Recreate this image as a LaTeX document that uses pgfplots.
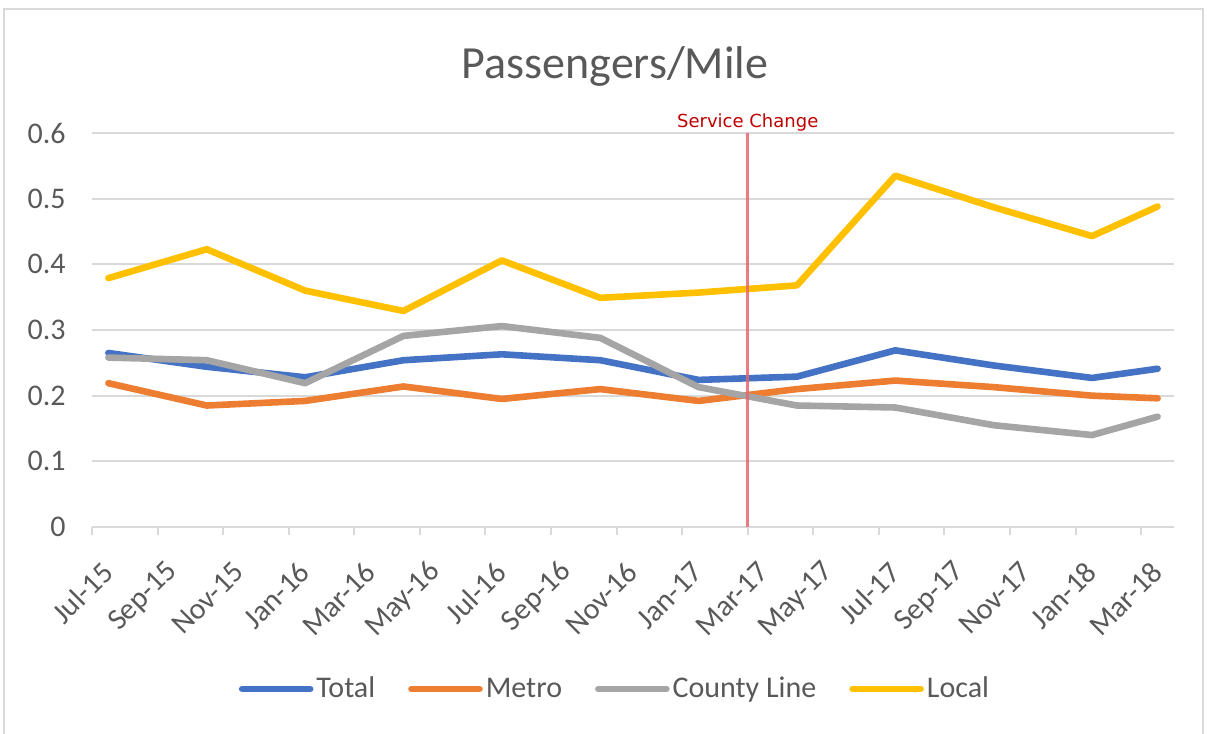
\documentclass[border=0pt]{standalone}
\usepackage{pgfplots}
\pgfplotsset{compat=1.18}
\usepackage{fontspec}
\setmainfont{Carlito}
\newfontfamily\dejavu{DejaVu Sans}

\definecolor{ctotal}{HTML}{4472C4}
\definecolor{cmetro}{HTML}{ED7D31}
\definecolor{ccounty}{HTML}{A5A5A5}
\definecolor{clocal}{HTML}{FFC000}
\definecolor{cgrid}{HTML}{D9D9D9}
\definecolor{ctext}{HTML}{595959}
\definecolor{cred}{HTML}{C00000}
\definecolor{cline}{RGB}{235,100,110}

% months after 1 Jul 2015, quarterly readings at mid-month
\pgfplotstableread{
x     total  metro  county local
0.5   0.265  0.219  0.258  0.379
3.5   0.244  0.185  0.254  0.423
6.5   0.228  0.192  0.219  0.360
9.5   0.254  0.214  0.291  0.329
12.5  0.263  0.195  0.306  0.406
15.5  0.254  0.210  0.288  0.349
18.5  0.224  0.192  0.213  0.357
21.5  0.229  0.210  0.185  0.368
24.5  0.269  0.223  0.182  0.535
27.5  0.246  0.213  0.155  0.487
30.5  0.227  0.200  0.140  0.443
32.5  0.241  0.196  0.168  0.488
}\ridership

\begin{document}
\begin{tikzpicture}
\path[use as bounding box] (-46pt,-103.5pt) rectangle (557.5pt,263.5pt);
\draw[cgrid, line width=1pt] (-44pt,-103.5pt) -- (-44pt,259pt) -- (555.5pt,259pt) -- (555.5pt,-103.5pt);

\begin{axis}[
    at={(0pt,0pt)}, anchor=south west,
    scale only axis,
    width=541pt, height=197pt,
    xmin=0, xmax=33,
    ymin=0, ymax=0.6,
    axis x line*=bottom,
    axis y line*=left,
    x axis line style={cgrid, line width=1pt},
    y axis line style={draw=none},
    xtick={0,2,...,32},
    xticklabels={Jul-15,Sep-15,Nov-15,Jan-16,Mar-16,May-16,Jul-16,Sep-16,Nov-16,Jan-17,Mar-17,May-17,Jul-17,Sep-17,Nov-17,Jan-18,Mar-18},
    xtick style={cgrid, line width=1pt},
    tick align=outside,
    major tick length=4pt,
    ytick={0,0.1,0.2,0.3,0.4,0.5,0.6},
    yticklabels={0,0.1,0.2,0.3,0.4,0.5,0.6},
    ytick style={draw=none},
    ymajorgrids,
    grid style={cgrid, line width=1pt},
    /pgf/number format/assume math mode=true,
    ticklabel style={font=\fontsize{15pt}{18pt}\selectfont, text=ctext, inner sep=0pt},
    xticklabel style={xshift=8pt, yshift=-16pt, rotate=45, anchor=east},
    yticklabel style={anchor=east, xshift=-9pt},
    clip=false,
    legend columns=4,
    legend style={draw=none, fill=none, at={(0.4838,-0.411)}, anchor=center,
        font=\fontsize{15pt}{18pt}\selectfont, text=ctext,
        nodes={inner sep=1.5pt},
        /tikz/every even column/.append style={column sep=15pt}},
    legend image code/.code={\draw[#1, line cap=round] (0pt,0pt) -- (34pt,0pt);},
    every axis plot/.append style={line width=3.3pt, line join=round, line cap=round},
]
\addplot[ctotal] table[x=x, y=total] {\ridership};
\addlegendentry{Total}
\addplot[cmetro] table[x=x, y=metro] {\ridership};
\addlegendentry{Metro}
\addplot[ccounty] table[x=x, y=county] {\ridership};
\addlegendentry{County Line}
\addplot[clocal] table[x=x, y=local] {\ridership};
\addlegendentry{Local}
\addplot[cline, line width=1.3pt, line cap=butt, opacity=0.85, forget plot] coordinates {(20,0) (20,0.6)};
\node[anchor=base, text=cred, font=\dejavu\fontsize{9pt}{11pt}\selectfont, yshift=3pt] at (axis cs:20,0.6) {Service Change};
\end{axis}

\node[anchor=base, text=ctext, font=\fontsize{23pt}{28pt}\selectfont] at (261.5pt,224pt) {Passengers/Mile};
\end{tikzpicture}
\end{document}
